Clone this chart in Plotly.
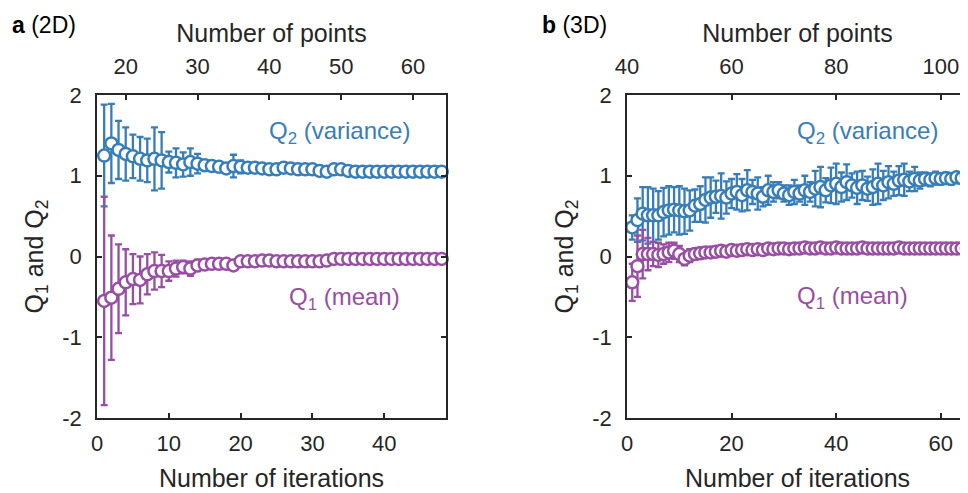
import plotly.graph_objects as go

# ---------------- data ----------------
iter_a = list(range(1, 49))
q2_a = [1.25, 1.40, 1.32, 1.27, 1.24, 1.21, 1.19, 1.21, 1.19, 1.17,
        1.16, 1.14, 1.17, 1.15, 1.13, 1.12, 1.11, 1.09, 1.12, 1.11,
        1.10, 1.10, 1.09, 1.08, 1.08, 1.10, 1.09, 1.08, 1.08, 1.08,
        1.06, 1.05, 1.08, 1.08, 1.06, 1.05, 1.05, 1.05, 1.05, 1.05,
        1.05, 1.05, 1.05, 1.05, 1.05, 1.05, 1.05, 1.05]
q2_a_err = [0.63, 0.49, 0.36, 0.33, 0.27, 0.27, 0.27, 0.39, 0.35, 0.13,
            0.18, 0.15, 0.17, 0.12, 0.06, 0.05, 0.05, 0.04, 0.14, 0.08,
            0.06, 0.04, 0.03, 0.03, 0.03, 0.03, 0.02, 0.02, 0.02, 0.02,
            0.02, 0.02, 0.02, 0.02, 0.02, 0.02, 0.02, 0.02, 0.02, 0.02,
            0.02, 0.02, 0.02, 0.02, 0.02, 0.02, 0.02, 0.02]
q1_a = [-0.55, -0.51, -0.40, -0.32, -0.28, -0.29, -0.22, -0.18, -0.18, -0.18,
        -0.15, -0.13, -0.15, -0.11, -0.10, -0.09, -0.09, -0.09, -0.11, -0.06,
        -0.06, -0.06, -0.05, -0.05, -0.06, -0.06, -0.06, -0.06, -0.06, -0.06,
        -0.06, -0.05, -0.03, -0.03, -0.03, -0.03, -0.03, -0.03, -0.03, -0.03,
        -0.03, -0.03, -0.03, -0.03, -0.03, -0.03, -0.03, -0.03]
q1_a_err = [1.29, 0.77, 0.55, 0.41, 0.31, 0.29, 0.25, 0.23, 0.20, 0.12,
            0.10, 0.08, 0.09, 0.07, 0.05, 0.04, 0.03, 0.03, 0.03, 0.03,
            0.02, 0.02, 0.02, 0.02, 0.02, 0.02, 0.02, 0.02, 0.02, 0.02,
            0.02, 0.02, 0.02, 0.02, 0.02, 0.02, 0.02, 0.02, 0.02, 0.02,
            0.02, 0.02, 0.02, 0.02, 0.02, 0.02, 0.02, 0.02]

iter_b = list(range(1, 66))
q2_b = [0.36, 0.45, 0.53, 0.51, 0.51, 0.51, 0.55, 0.57, 0.58, 0.57,
        0.56, 0.57, 0.63, 0.65, 0.70, 0.73, 0.74, 0.75, 0.73, 0.78,
        0.80, 0.76, 0.82, 0.80, 0.78, 0.74, 0.82, 0.80, 0.82, 0.78,
        0.76, 0.80, 0.78, 0.82, 0.80, 0.84, 0.86, 0.82, 0.88, 0.90,
        0.86, 0.92, 0.88, 0.85, 0.88, 0.84, 0.86, 0.90, 0.88, 0.92,
        0.90, 0.94, 0.95, 0.93, 0.96, 0.94, 0.96, 0.95, 0.97, 0.96,
        0.97, 0.96, 0.98, 0.97, 1.00]
q2_b_err = [0.15, 0.27, 0.33, 0.35, 0.33, 0.30, 0.30, 0.30, 0.28, 0.30,
            0.28, 0.25, 0.20, 0.22, 0.28, 0.25, 0.20, 0.28, 0.20, 0.18,
            0.22, 0.20, 0.25, 0.15, 0.20, 0.12, 0.18, 0.12, 0.10, 0.10,
            0.12, 0.15, 0.10, 0.18, 0.12, 0.22, 0.25, 0.15, 0.22, 0.25,
            0.18, 0.22, 0.15, 0.20, 0.18, 0.15, 0.22, 0.25, 0.18, 0.20,
            0.15, 0.18, 0.20, 0.12, 0.15, 0.10, 0.08, 0.08, 0.08, 0.07,
            0.07, 0.07, 0.06, 0.06, 0.06]
q1_b = [-0.32, -0.12, 0.03, 0.03, 0.03, 0.02, 0.03, 0.05, 0.07, 0.03,
        -0.03, 0.01, 0.03, 0.04, 0.05, 0.05, 0.06, 0.07, 0.06, 0.08,
        0.07, 0.08, 0.09, 0.08, 0.09, 0.08, 0.10, 0.09, 0.10, 0.10,
        0.09, 0.10, 0.10, 0.11, 0.10, 0.10, 0.11, 0.10, 0.10, 0.11,
        0.10, 0.10, 0.10, 0.10, 0.11, 0.10, 0.10, 0.10, 0.10, 0.10,
        0.10, 0.11, 0.10, 0.10, 0.10, 0.10, 0.10, 0.10, 0.10, 0.10,
        0.10, 0.10, 0.10, 0.10, 0.10]
q1_b_err = [0.23, 0.38, 0.30, 0.20, 0.15, 0.15, 0.12, 0.12, 0.10, 0.10,
            0.08, 0.08, 0.07, 0.07, 0.06, 0.06, 0.06, 0.06, 0.05, 0.05,
            0.05, 0.05, 0.05, 0.05, 0.05, 0.04, 0.04, 0.04, 0.04, 0.04,
            0.04, 0.04, 0.04, 0.04, 0.04, 0.03, 0.03, 0.03, 0.03, 0.03,
            0.03, 0.03, 0.03, 0.03, 0.03, 0.03, 0.03, 0.03, 0.03, 0.03,
            0.03, 0.03, 0.03, 0.03, 0.03, 0.03, 0.03, 0.03, 0.03, 0.03,
            0.03, 0.03, 0.03, 0.03, 0.03]

# number of points = iterations + offset
points_offset_a = 16
points_offset_b = 40
points_ticks_a = [20, 30, 40, 50, 60]
points_ticks_b = [40, 60, 80, 100]
iter_ticks_a = [0, 10, 20, 30, 40]
iter_ticks_b = [0, 20, 40, 60]
y_ticks = [-2, -1, 0, 1, 2]
y_ticktext = ["-2", "-1", "0", "1", "2"]

# ---------------- style ----------------
BLUE = "#377eb8"
PURPLE = "#984ea3"
AX = "#262626"
FONT = "Liberation Sans, Arial, Helvetica, sans-serif"
xr_a = [0, 48.6]
xr_b = [0, 65.2]

# page body has an 8px margin: figure is sized so it fills the window exactly
W, H = 960, 485
OFF = 8

fig = go.Figure()


def add_series(x, y, err, color, xa, ya, clip):
    fig.add_trace(go.Scatter(
        x=x, y=y, mode="markers", xaxis=xa, yaxis=ya, cliponaxis=clip,
        marker=dict(symbol="circle", size=12, color="white",
                    line=dict(color=color, width=2.5)),
        error_y=dict(type="data", array=err, visible=True, color=color,
                     thickness=2.3, width=3.5),
        showlegend=False, hoverinfo="skip"))


add_series(iter_a, q2_a, q2_a_err, BLUE, "x", "y", False)
add_series(iter_a, q1_a, q1_a_err, PURPLE, "x", "y", False)
add_series(iter_b, q2_b, q2_b_err, BLUE, "x2", "y2", True)
add_series(iter_b, q1_b, q1_b_err, PURPLE, "x2", "y2", True)

# invisible helpers so that the top axes exist
fig.add_trace(go.Scatter(x=[points_offset_a + 1], y=[0], xaxis="x3", yaxis="y",
                         mode="markers", marker=dict(opacity=0),
                         showlegend=False, hoverinfo="skip"))
fig.add_trace(go.Scatter(x=[points_offset_b + 1], y=[0], xaxis="x4", yaxis="y2",
                         mode="markers", marker=dict(opacity=0),
                         showlegend=False, hoverinfo="skip"))


def px_x(v):
    return (v - OFF) / W


def px_y(v):
    return (H - (v - OFF)) / H


dom_a = [px_x(97), px_x(446)]
dom_b = [px_x(627), 1.0]
dom_y = [px_y(418), px_y(95)]

tickfont = dict(family=FONT, size=22, color=AX)
titlefont = dict(family=FONT, size=25, color=AX)

common = dict(showline=True, linecolor=AX, linewidth=1.5, ticks="inside",
              ticklen=5, tickwidth=1.5, tickcolor=AX, showgrid=False,
              zeroline=False, tickfont=tickfont, automargin=False)

fig.update_layout(
    width=W, height=H,
    margin=dict(l=0, r=0, t=0, b=0, autoexpand=False),
    paper_bgcolor="white", plot_bgcolor="white",
    font=dict(family=FONT, color=AX),
    xaxis=dict(domain=dom_a, range=xr_a, anchor="y", tickvals=iter_ticks_a,
               mirror=True, ticklabelstandoff=5,
               title=dict(text="Number of iterations", font=titlefont, standoff=14),
               **common),
    xaxis2=dict(domain=dom_b, range=xr_b, anchor="y2", tickvals=iter_ticks_b,
                mirror=True, ticklabelstandoff=5,
                title=dict(text="Number of iterations", font=titlefont, standoff=14),
                **common),
    xaxis3=dict(overlaying="x", side="top", anchor="y",
                range=[xr_a[0] + points_offset_a, xr_a[1] + points_offset_a],
                tickvals=points_ticks_a, ticklabelstandoff=10,
                title=dict(text="Number of points", font=titlefont, standoff=5),
                **common),
    xaxis4=dict(overlaying="x2", side="top", anchor="y2",
                range=[xr_b[0] + points_offset_b, xr_b[1] + points_offset_b],
                tickvals=points_ticks_b, ticklabelstandoff=10,
                title=dict(text="Number of points", font=titlefont, standoff=5),
                **common),
    yaxis=dict(domain=dom_y, range=[-2, 2], anchor="x", tickvals=y_ticks,
               ticktext=y_ticktext, mirror="ticks", ticklabelstandoff=9,
               title=dict(text="Q<sub>1</sub> and Q<sub>2</sub>", font=titlefont, standoff=12),
               **common),
    yaxis2=dict(domain=dom_y, range=[-2, 2], anchor="x2", tickvals=y_ticks,
                ticktext=y_ticktext, mirror=False, ticklabelstandoff=9,
                title=dict(text="Q<sub>1</sub> and Q<sub>2</sub>", font=titlefont, standoff=12),
                **common),
)

ann_font_b = dict(family=FONT, size=24, color=BLUE)
ann_font_p = dict(family=FONT, size=24, color=PURPLE)
fig.add_annotation(x=33.8, y=1.53, xref="x", yref="y", showarrow=False,
                   text="Q<sub>2</sub> (variance)", font=ann_font_b)
fig.add_annotation(x=34.5, y=-0.52, xref="x", yref="y", showarrow=False,
                   text="Q<sub>1</sub> (mean)", font=ann_font_p)
fig.add_annotation(x=46, y=1.53, xref="x2", yref="y2", showarrow=False,
                   text="Q<sub>2</sub> (variance)", font=ann_font_b)
fig.add_annotation(x=43.2, y=-0.51, xref="x2", yref="y2", showarrow=False,
                   text="Q<sub>1</sub> (mean)", font=ann_font_p)

fig.add_annotation(x=px_x(10), y=px_y(25), xref="paper", yref="paper",
                   xanchor="left", yanchor="middle", showarrow=False,
                   text="<b>a</b> (2D)", font=dict(family=FONT, size=23, color="black"))
fig.add_annotation(x=px_x(540), y=px_y(25), xref="paper", yref="paper",
                   xanchor="left", yanchor="middle", showarrow=False,
                   text="<b>b</b> (3D)", font=dict(family=FONT, size=23, color="black"))

fig.write_html("out.html")
